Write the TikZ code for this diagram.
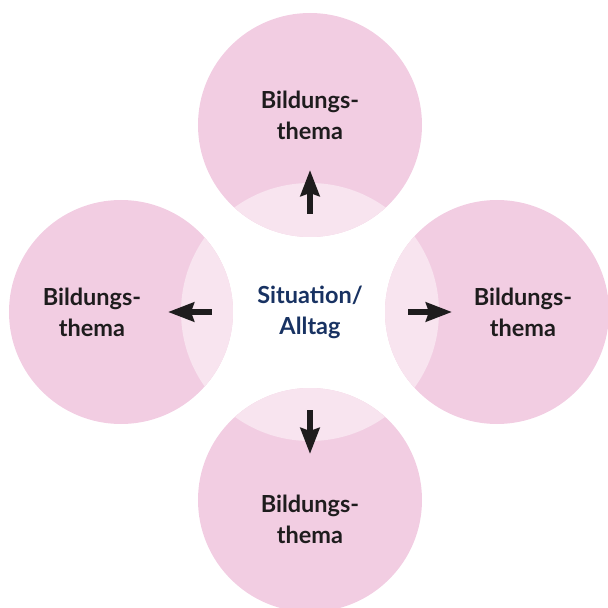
\documentclass[tikz,border=0pt]{standalone}
\usepackage{fontspec}
\setmainfont{Lato}
\usepackage{xcolor}
\usetikzlibrary{positioning,calc,arrows.meta}

\definecolor{rosa}{RGB}{242,205,226}
\definecolor{rosahell}{RGB}{248,228,239}
\definecolor{nachtblau}{RGB}{24,50,98}
\definecolor{tinte}{RGB}{30,28,29}

\tikzset{
    themakreis/.style={circle, fill=rosa, minimum size=224pt, inner sep=0pt},
    thematext/.style={align=center, text=tinte, font=\fontsize{23.5}{31}\selectfont\bfseries},
    pfeil/.style={-{Stealth[length=26pt, width=19pt, inset=3pt]}, line width=5.5pt, draw=tinte}
}

\begin{document}
\begin{tikzpicture}[x=1pt, y=1pt]
    \useasboundingbox (-310,-296) rectangle (298,312);

    \coordinate (mitte) at (0,0);

    % Bildungsthemen rund um die Mitte
    \node[themakreis] (oben)   at (0,187)  {};
    \node[themakreis] (links)  at (-189,0) {};
    \node[themakreis] (rechts) at (187,0)  {};
    \node[themakreis] (unten)  at (0,-188) {};

    % helle Schnittflaechen mit dem Mittelkreis
    \begin{scope}
        \clip (mitte) circle (129pt);
        \foreach \k in {oben, links, rechts, unten} {
            \fill[rosahell] (\k) circle (112pt);
        }
    \end{scope}

    % Beschriftungen
    \node[thematext] at ($(oben)+(0,10)$)    {Bildungs-\\thema};
    \node[thematext] at ($(links)+(-29,0)$)  {Bildungs-\\thema};
    \node[thematext] at ($(rechts)+(26,0)$)  {Bildungs-\\thema};
    \node[thematext] at ($(unten)+(0,-19)$)  {Bildungs-\\thema};
    \node[thematext, text=nachtblau] (alltag) at (mitte) {Situation/\\Alltag};

    % Pfeile von der Mitte nach aussen
    \foreach \k/\ang in {oben/90, links/180, rechts/0, unten/270} {
        \coordinate (von-\k) at ($(mitte)+(\ang:98)$);
        \coordinate (bis-\k) at ($(mitte)+(\ang:142)$);
        \draw[pfeil] (von-\k) -- (bis-\k);
    }
\end{tikzpicture}
\end{document}
